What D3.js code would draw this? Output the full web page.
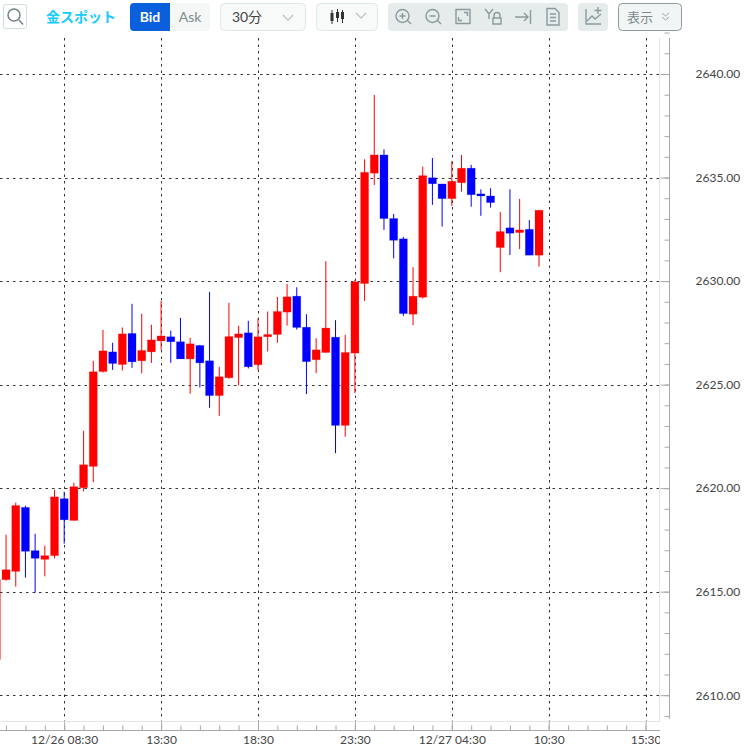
<!DOCTYPE html>
<html lang="ja">
<head>
  <meta charset="UTF-8">
  <title>金スポット 30分</title>
  <script src="https://d3js.org/d3.v7.min.js"></script>
  <style>
    html, body { margin: 0; padding: 0; background: #fff; }
    svg { display: block; font-family: Lato, "Noto Sans CJK JP", sans-serif; }
    .axis-label text { font-size: 12px; fill: #444; }
    .axis-label path, .axis-label line { display: none; }
    .tool { fill: none; stroke: #8a9a9c; stroke-width: 1.4; }
  </style>
</head>
<body>
  <div id="chart"></div>

  <script>
    // candle index 0 is the one cut off by the left edge
    const opens = [2611.72, 2615.58, 2615.98, 2619.07, 2616.98, 2616.56, 2616.74, 2619.49, 2618.44, 2620.02,
      2621.05, 2625.63, 2626.58, 2625.97, 2627.47, 2626.15, 2626.58, 2627.11, 2627.31, 2627.07,
      2626.24, 2626.89, 2626.15, 2624.47, 2625.33, 2627.27, 2627.50, 2625.96, 2627.31, 2627.42,
      2628.50, 2629.27, 2627.77, 2626.20, 2626.55, 2627.29, 2623.03, 2626.52, 2629.88, 2635.21,
      2636.09, 2633.02, 2632.04, 2628.40, 2629.22, 2634.99, 2634.69, 2633.98, 2634.75, 2635.45,
      2634.21, 2634.11, 2631.62, 2632.57, 2632.34, 2632.50, 2631.25];
    const highs = [2615.60, 2617.75, 2619.30, 2619.15, 2617.80, 2617.22, 2619.92, 2619.83, 2620.26, 2622.77,
      2626.15, 2627.64, 2627.02, 2627.76, 2628.90, 2628.42, 2627.89, 2629.04, 2627.61, 2628.22,
      2627.26, 2626.92, 2629.48, 2625.86, 2628.95, 2627.84, 2628.08, 2628.18, 2628.53, 2629.24,
      2629.86, 2629.70, 2628.40, 2627.24, 2630.96, 2628.11, 2627.40, 2630.06, 2635.88, 2638.99,
      2636.36, 2633.24, 2632.13, 2630.67, 2635.53, 2635.94, 2634.69, 2635.79, 2636.09, 2635.61,
      2634.43, 2634.48, 2633.34, 2634.43, 2633.97, 2632.95, 2633.43];
    const lows = [2611.72, 2615.53, 2615.24, 2615.68, 2614.95, 2615.74, 2616.61, 2617.32, 2618.43, 2619.84,
      2620.28, 2625.58, 2625.71, 2625.68, 2625.81, 2625.54, 2626.05, 2626.68, 2626.05, 2626.24,
      2624.56, 2624.86, 2623.88, 2623.49, 2625.28, 2624.96, 2625.78, 2625.71, 2626.60, 2627.02,
      2627.85, 2627.66, 2624.54, 2625.55, 2626.55, 2621.69, 2622.48, 2624.59, 2629.04, 2634.64,
      2632.47, 2631.10, 2628.32, 2627.87, 2629.15, 2633.68, 2632.63, 2633.63, 2634.32, 2633.59,
      2633.15, 2633.55, 2630.43, 2631.26, 2631.54, 2631.25, 2630.70];
    const closes = [2615.58, 2616.06, 2619.16, 2616.95, 2616.61, 2616.74, 2619.58, 2618.47, 2620.07, 2621.13,
      2625.62, 2626.63, 2626.02, 2627.45, 2626.10, 2626.65, 2627.16, 2627.35, 2627.07, 2626.24,
      2626.97, 2626.05, 2624.47, 2625.38, 2627.32, 2627.45, 2625.86, 2627.31, 2627.42, 2628.53,
      2629.24, 2627.76, 2626.11, 2626.68, 2627.73, 2623.03, 2626.55, 2629.96, 2635.25, 2636.09,
      2633.02, 2631.97, 2628.43, 2629.27, 2635.09, 2634.70, 2633.98, 2634.82, 2635.45, 2634.17,
      2634.11, 2633.79, 2632.39, 2632.31, 2632.47, 2631.25, 2633.42];

    const priceTicks = [2610, 2615, 2620, 2625, 2630, 2635, 2640];
    const minorPriceTicks = d3.range(2609, 2644);
    const timeTickIndex = [7, 17, 27, 37, 47, 57, 67];
    const timeTickLabels = ["12/26 08:30", "13:30", "18:30", "23:30", "12/27 04:30", "10:30", "15:30"];
    const minorTimeTicks = d3.range(1, 70, 2);

    const width = 746, height = 747;
    const plotRight = 660, axisX = 669.5, plotTop = 38, axisY = 730.5;
    const bodyWidth = 8;

    const x = d3.scaleLinear().domain([7, 17]).range([64.2, 161.1]);
    const y = d3.scaleLinear().domain([2610, 2640]).range([695.2, 74]);

    const svg = d3.select("#chart").append("svg")
      .attr("width", width)
      .attr("height", height);

    svg.append("defs").append("clipPath").attr("id", "plot-clip")
      .append("rect").attr("width", plotRight).attr("height", height);

    // grid
    const grid = svg.append("g").attr("stroke", "#333").attr("stroke-dasharray", "2.5,4");
    grid.selectAll(".h").data(priceTicks).join("line")
      .attr("x1", 0).attr("x2", plotRight)
      .attr("y1", d => Math.round(y(d)) + 0.5).attr("y2", d => Math.round(y(d)) + 0.5);
    grid.selectAll(".v").data(timeTickIndex).join("line")
      .attr("x1", d => Math.round(x(d)) + 0.5).attr("x2", d => Math.round(x(d)) + 0.5)
      .attr("y1", plotTop).attr("y2", 721);

    // candles
    const candles = d3.range(opens.length);
    const colorOf = i => closes[i] >= opens[i] ? "#ff0000" : "#0000ff";
    const marks = svg.append("g").selectAll("g").data(candles).join("g");
    marks.append("line")
      .attr("x1", i => x(i)).attr("x2", i => x(i))
      .attr("y1", i => y(highs[i])).attr("y2", i => y(lows[i]))
      .attr("stroke", colorOf).attr("stroke-width", 1);
    marks.append("rect")
      .attr("x", i => x(i) - bodyWidth / 2)
      .attr("width", bodyWidth)
      .attr("y", i => y(Math.max(opens[i], closes[i])))
      .attr("height", i => Math.max(1, Math.abs(y(opens[i]) - y(closes[i]))))
      .attr("fill", colorOf)
      .attr("stroke", colorOf)
      .attr("stroke-opacity", 0.25)
      .attr("stroke-width", 0.8);

    // frame lines around the plot
    svg.append("line").attr("x1", 0).attr("x2", plotRight).attr("y1", 721.5).attr("y2", 721.5).attr("stroke", "#e4e4e4");
    svg.append("line").attr("x1", plotRight - 0.5).attr("x2", plotRight - 0.5).attr("y1", plotTop).attr("y2", 721.5).attr("stroke", "#e4e4e4");

    // time axis
    const timeAxes = svg.append("g").attr("clip-path", "url(#plot-clip)");
    const drawTicks = (g, axis) => {
      g.call(axis);
      g.selectAll("text").remove();
      g.select(".domain").attr("stroke", "#a8a8a8");
      g.selectAll("line").attr("stroke", "#a8a8a8");
    };
    timeAxes.append("g").attr("transform", `translate(0,${axisY})`)
      .call(drawTicks, d3.axisTop(x).tickValues(minorTimeTicks).tickSize(5).tickSizeOuter(0));
    timeAxes.append("g").attr("transform", `translate(0,${axisY})`)
      .call(drawTicks, d3.axisTop(x).tickValues(timeTickIndex).tickSize(9).tickSizeOuter(0));
    timeAxes.selectAll(".domain").attr("d", `M0,0H${plotRight}`);

    timeAxes.append("g").attr("class", "axis-label")
      .attr("transform", `translate(0,${axisY})`)
      .call(d3.axisBottom(x).tickValues(timeTickIndex).tickSize(0).tickPadding(5)
        .tickFormat((d, i) => timeTickLabels[i]))
      .attr("font-family", null);

    // price axis
    const priceAxes = svg.append("g").attr("transform", `translate(${axisX},0)`);
    priceAxes.append("g").call(drawTicks, d3.axisLeft(y).tickValues(minorPriceTicks).tickSize(5).tickSizeOuter(0));
    priceAxes.append("g").call(drawTicks, d3.axisLeft(y).tickValues(priceTicks).tickSize(9).tickSizeOuter(0));
    priceAxes.selectAll(".domain").attr("d", "M0,38V719");
    priceAxes.append("g").attr("class", "axis-label")
      .call(d3.axisRight(y).tickValues(priceTicks).tickSize(0).tickPadding(26).tickFormat(d3.format(".2f")))
      .attr("font-family", null);

    // toolbar
    const bar = svg.append("g");
    const box = (x0, y0, w, h, fill, stroke, r = 4) => bar.append("rect")
      .attr("x", x0).attr("y", y0).attr("width", w).attr("height", h).attr("rx", r)
      .attr("fill", fill).attr("stroke", stroke || "none");
    const label = (x0, y0, str, size, color, weight) => bar.append("text")
      .attr("x", x0).attr("y", y0).attr("text-anchor", "middle")
      .attr("font-size", size).attr("fill", color).attr("font-weight", weight || 400).text(str);
    const icon = d => bar.append("path").attr("class", "tool").attr("d", d);

    box(3.5, 4.5, 23, 24, "#fff", "#cfdcdc", 2);
    bar.append("path").attr("fill", "none").attr("stroke", "#6f8385").attr("stroke-width", 1.5)
      .attr("d", "M19,20l4,4.5M20,15a6,6 0 1,1 -12,0a6,6 0 1,1 12,0");

    label(81, 22, "金スポット", 14, "#14ccff", 700);

    box(170, 3, 40, 28, "#f5f7f7");
    box(130, 3, 40, 28, "#0a5fdc");
    bar.append("rect").attr("x", 164).attr("y", 3).attr("width", 6).attr("height", 28).attr("fill", "#0a5fdc");
    label(150, 22, "Bid", 14, "#fff", 700);
    label(190, 22, "Ask", 14, "#7e8c90");

    box(220.5, 3.5, 85, 27, "#f8fafa", "#dfe8e8");
    label(247, 22, "30分", 14, "#444");
    bar.append("path").attr("fill", "none").attr("stroke", "#bcc6c8").attr("stroke-width", 1.3).attr("d", "M283,15l5,5l5,-5");

    box(316.5, 3.5, 61, 27, "#f8fafa", "#dfe8e8");
    bar.append("path").attr("fill", "none").attr("stroke", "#bcc6c8").attr("stroke-width", 1.3).attr("d", "M356,13l5,5l5,-5");
    bar.append("path").attr("stroke", "#333").attr("d", "M332,10V24M337.5,9V22M342.5,10V23");
    bar.append("path").attr("stroke", "#333").attr("stroke-width", 3).attr("d", "M332,13V21M337.5,12V18M342.5,12V19");

    box(388, 3, 180, 28, "#e6ecec");
    box(578, 3, 30, 28, "#e6ecec");

    icon("M411,24l-4,-4M409,16a6.5,6.5 0 1,1 -13,0a6.5,6.5 0 1,1 13,0M399.5,16h6M402.5,13v6");
    icon("M441,24l-4,-4M439,16a6.5,6.5 0 1,1 -13,0a6.5,6.5 0 1,1 13,0M429.5,16h6");
    icon("M456,9.5h14v14h-14zM464,12.5h3.5v3.5M462,20.5h-3.5v-3.5");
    icon("M485,9l4,5l4,-5M489,14v5M494,18v-2.5a3,3 0 0,1 6,0v2.5M493,18h8v6h-8z");
    icon("M515,17h13M524,13l4,4l-4,4M530.5,10v14");
    icon("M547,8.5h8l4,4v12.5h-12zM550,14h6M550,17.5h6M550,21h6");
    icon("M586,9v15h15M587,21l5,-5l3,3l6,-5M598,7v7M594.5,10.5h7");

    box(618.5, 3.5, 63, 27, "#f2f5f5", "#8e9a9c");
    label(640, 22, "表示", 13, "#7c8a8c");
    bar.append("path").attr("fill", "none").attr("stroke", "#9aa6a8").attr("d", "M662,13l3.5,3l3.5,-3M662,17l3.5,3l3.5,-3");
  </script>
</body>
</html>
